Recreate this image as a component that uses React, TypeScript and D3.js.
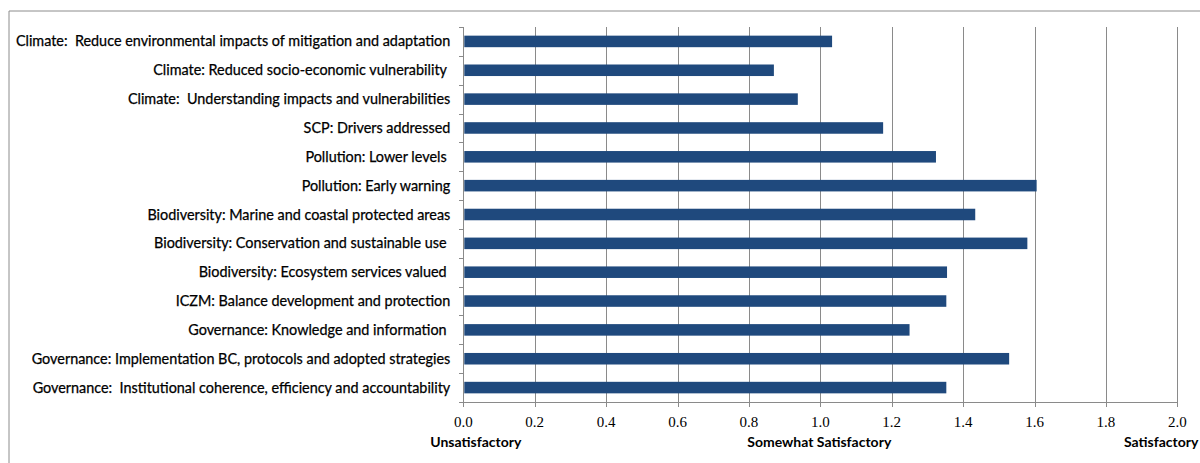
import React from "react";
import * as d3 from "d3";

const categories = [
  "Climate:  Reduce environmental impacts of mitigation and adaptation",
  "Climate: Reduced socio-economic vulnerability ",
  "Climate:  Understanding impacts and vulnerabilities",
  "SCP: Drivers addressed",
  "Pollution: Lower levels ",
  "Pollution: Early warning",
  "Biodiversity: Marine and coastal protected areas",
  "Biodiversity: Conservation and sustainable use ",
  "Biodiversity: Ecosystem services valued ",
  "ICZM: Balance development and protection",
  "Governance: Knowledge and information ",
  "Governance: Implementation BC, protocols and adopted strategies",
  "Governance:  Institutional coherence, efficiency and accountability",
];

const values = [1.033, 0.87, 0.937, 1.176, 1.324, 1.606, 1.434, 1.58, 1.355, 1.353, 1.25, 1.529, 1.353];

const xTicks = [0, 0.2, 0.4, 0.6, 0.8, 1.0, 1.2, 1.4, 1.6, 1.8, 2.0];

const ratingLabels = [
  { value: 0, text: "Unsatisfactory", anchor: "start", dx: -33 },
  { value: 1, text: "Somewhat Satisfactory", anchor: "middle", dx: -1 },
  { value: 2, text: "Satisfactory", anchor: "end", dx: 21 },
];

export default function App() {
  const W = 1200;
  const H = 463;
  const left = 463.3;
  const right = 1177.3;
  const top = 27;
  const bottom = 402;

  const x = d3.scaleLinear().domain([0, 2]).range([left, right]);
  const y = d3
    .scaleBand<string>()
    .domain(categories.map((_, i) => String(i)))
    .range([top, bottom])
    .paddingInner(0.6)
    .paddingOuter(0.3);

  const band = (bottom - top) / categories.length;
  const labelFont = "Lato, 'Open Sans', sans-serif";

  return (
    <svg
      width={W}
      height={H}
      style={{ position: "absolute", left: 0, top: 0, background: "#fff" }}
    >
      <rect x={0} y={0} width={W} height={H} fill="#fff" />
      {/* outer border */}
      <line x1={9} y1={11} x2={W} y2={11} stroke="#8c8c8c" strokeWidth={1} />
      <line x1={9} y1={11} x2={9} y2={H} stroke="#8c8c8c" strokeWidth={1} />

      {/* gridlines */}
      {xTicks.slice(1).map((t) => (
        <line
          key={"g" + t}
          x1={Math.round(x(t)) + 0.5}
          x2={Math.round(x(t)) + 0.5}
          y1={top}
          y2={bottom + 5}
          stroke="#8a8a8a"
          strokeWidth={1}
        />
      ))}

      {/* y axis */}
      <line x1={Math.round(left) + 0.5} x2={Math.round(left) + 0.5} y1={top} y2={bottom + 5} stroke="#8a8a8a" />
      {d3.range(categories.length + 1).map((i) => (
        <line
          key={"yt" + i}
          x1={Math.round(left) - 4}
          x2={Math.round(left) + 0.5}
          y1={Math.round(top + i * band) + 0.5}
          y2={Math.round(top + i * band) + 0.5}
          stroke="#8a8a8a"
        />
      ))}
      {/* x axis */}
      <line x1={left} x2={right} y1={bottom + 0.5} y2={bottom + 0.5} stroke="#8a8a8a" />

      {/* bars */}
      {values.map((v, i) => (
        <rect
          key={"b" + i}
          x={x(0) + 1}
          y={y(String(i))!}
          width={x(v) - x(0) - 1}
          height={y.bandwidth()}
          fill="#1f497d"
        />
      ))}

      {/* category labels */}
      {categories.map((c, i) => (
        <text
          key={"c" + i}
          x={left - 13}
          y={y(String(i))! + y.bandwidth() / 2}
          dy="0.35em"
          textAnchor="end"
          fontFamily={labelFont}
          fontSize={14.4}
          fill="#000"
          stroke="#000"
          strokeWidth={0.25}
          style={{ whiteSpace: "pre" }}
        >
          {c}
        </text>
      ))}

      {/* x tick labels */}
      {xTicks.map((t) => (
        <text
          key={"xt" + t}
          x={x(t)}
          y={422}
          dy="0.35em"
          textAnchor="middle"
          fontFamily="'Liberation Serif', 'DejaVu Serif', serif"
          fontSize={15}
          fill="#000"
        >
          {d3.format(".1f")(t)}
        </text>
      ))}

      {/* rating labels */}
      {ratingLabels.map((r) => (
        <text
          key={"r" + r.text}
          x={x(r.value) + r.dx}
          y={442}
          dy="0.35em"
          textAnchor={r.anchor as any}
          fontFamily={labelFont}
          fontWeight="bold"
          fontSize={14}
          fill="#000"
        >
          {r.text}
        </text>
      ))}
    </svg>
  );
}
